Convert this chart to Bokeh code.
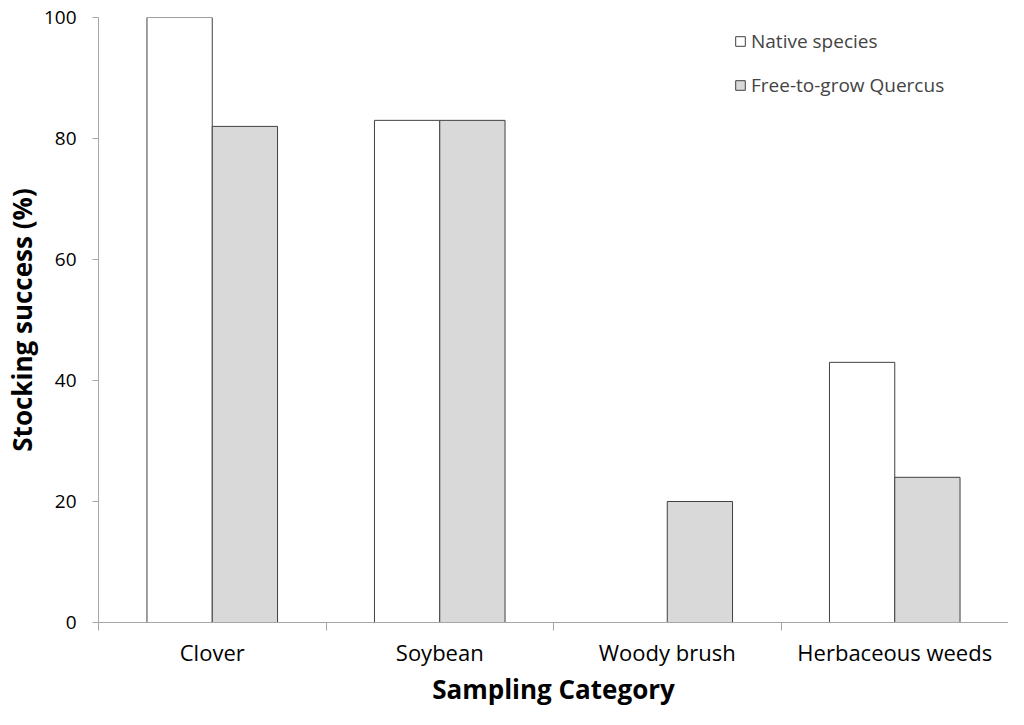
from bokeh.plotting import figure
from bokeh.models import Range1d, FixedTicker, ColumnDataSource, Legend, LegendItem
from bokeh.embed import file_html
from bokeh.resources import INLINE

categories = ["Clover", "Soybean", "Woody brush", "Herbaceous weeds"]
native_species = [100, 83, 0, 43]
free_to_grow_quercus = [82, 83, 20, 24]
y_ticks = [0, 20, 40, 60, 80, 100]

FONT = "Open Sans"
idx = list(range(len(categories)))
BAR_W = 0.287
OFF = BAR_W / 2

src = ColumnDataSource(dict(
    x=idx,
    xn=[i - OFF for i in idx],
    xf=[i + OFF for i in idx],
    native=native_species,
    free=free_to_grow_quercus,
))

p = figure(width=1008, height=709, output_backend="svg", toolbar_location=None,
           x_range=Range1d(-0.5, len(categories) - 0.5), y_range=Range1d(0, 100),
           min_border_left=98, min_border_right=0, min_border_top=17, min_border_bottom=86)
p.outline_line_color = None
p.xgrid.visible = False
p.ygrid.visible = False
p.background_fill_color = "white"

r1 = p.vbar(x="xn", top="native", width=BAR_W, source=src, fill_color="white",
            line_color="#404040", line_width=1)
r2 = p.vbar(x="xf", top="free", width=BAR_W, source=src, fill_color="#d9d9d9",
            line_color="#404040", line_width=1)

AX = "#a6a6a6"
# x axis
xa = p.xaxis[0]
xa.ticker = FixedTicker(ticks=idx, minor_ticks=[i - 0.5 for i in range(len(categories) + 1)])
xa.major_label_overrides = {i: c for i, c in zip(idx, categories)}
xa.major_tick_out = 0
xa.major_tick_in = 0
xa.minor_tick_out = 8
xa.minor_tick_in = 0
xa.minor_tick_line_color = AX
xa.axis_line_color = AX
xa.major_label_standoff = 6
xa.major_label_text_font = FONT
xa.major_label_text_font_size = "22px"
xa.major_label_text_color = "black"
xa.axis_label = "Sampling Category"
xa.axis_label_text_font = FONT
xa.axis_label_text_font_style = "bold"
xa.axis_label_text_font_size = "26px"
xa.axis_label_text_color = "black"
xa.axis_label_standoff = 1

# y axis
ya = p.yaxis[0]
ya.ticker = FixedTicker(ticks=y_ticks)
ya.major_tick_out = 6
ya.major_tick_in = 0
ya.minor_tick_line_color = None
ya.major_tick_line_color = AX
ya.axis_line_color = AX
ya.major_label_standoff = 16
ya.major_label_text_font = FONT
ya.major_label_text_font_size = "19px"
ya.major_label_text_color = "black"
ya.axis_label = "Stocking success (%)"
ya.axis_label_text_font = FONT
ya.axis_label_text_font_style = "bold"
ya.axis_label_text_font_size = "26px"
ya.axis_label_text_color = "black"
ya.axis_label_standoff = 1

legend = Legend(items=[LegendItem(label="Native species", renderers=[r1]),
                       LegendItem(label="Free-to-grow Quercus", renderers=[r2])],
                location=(636, 524))
legend.glyph_width = 12
legend.glyph_height = 12
legend.label_text_font = FONT
legend.label_text_font_size = "19px"
legend.label_standoff = 5
legend.spacing = 18
legend.padding = 0
legend.margin = 0
legend.border_line_color = None
legend.background_fill_alpha = 0
p.add_layout(legend)

open("out.html", "w").write(file_html(p, INLINE))
